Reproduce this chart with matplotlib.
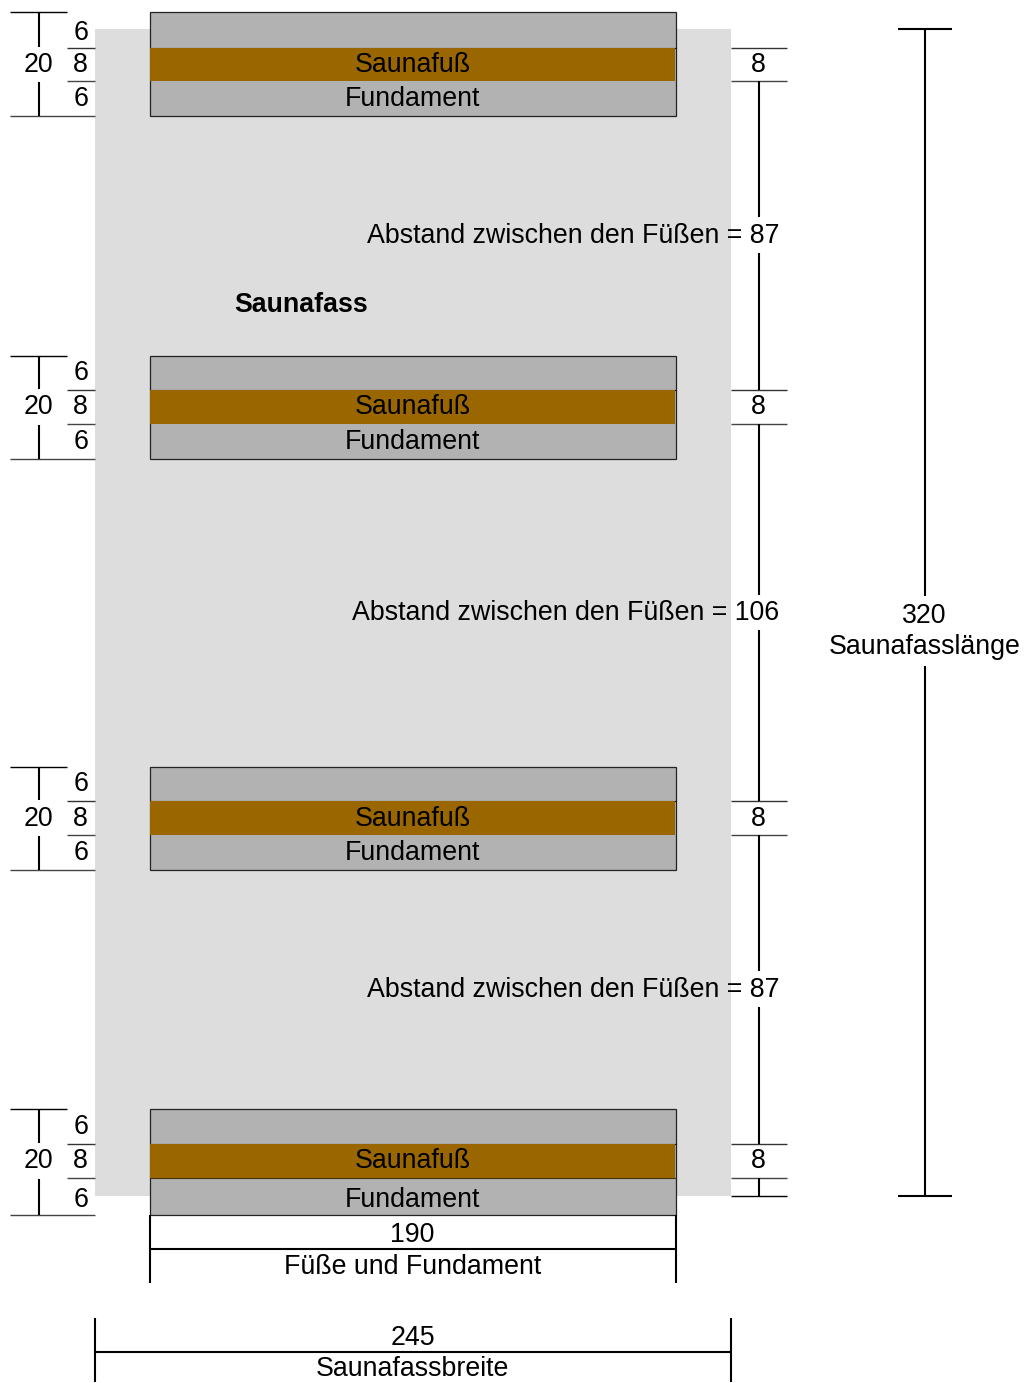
import matplotlib
matplotlib.use("Agg")
import matplotlib.pyplot as plt
from matplotlib.patches import Rectangle

plt.rcParams['font.family'] = ['Liberation Sans', 'DejaVu Sans']

# values
layer_cm = [6, 8, 6]
foot_total_cm = 20
foot_height_cm = 8
gaps_cm = [87, 106, 87]
barrel_length_cm = 320
barrel_width_cm = 245
foot_width_cm = 190
foot_label = "Saunafuß"
base_label = "Fundament"
barrel_label = "Saunafass"
gap_label = "Abstand zwischen den Füßen = "
length_label = "Saunafasslänge"
width_label = "Saunafassbreite"
foot_width_label = "Füße und Fundament"

# drawing layout (pixels of the sheet)
W, H = 1025, 1383
feet_y = [(13, 48.5, 82, 117), (357, 391, 425, 460),
          (768, 802, 836, 871), (1110, 1144.5, 1179, 1216)]
label_y = [(31, 63, 97), (371, 405, 440), (782, 817, 851), (1125, 1159, 1198)]
gap_y = [234, 611, 988]
gap_break = [(218, 254), (596, 631), (972, 1008)]
FS = 19.25
GREY, BROWN, BG = '#b2b2b2', '#996600', '#dddddd'

fig = plt.figure(figsize=(W / 100, H / 100), dpi=100)
ax = fig.add_axes([0, 0, 1, 1])
ax.set_xlim(0.4, W + 0.4)
ax.set_ylim(H + 0.6, 0.6)
ax.axis('off')


def T(x, y, s, **kw):
    kw.setdefault('ha', 'center')
    ax.text(x, y - 0.4, s, fontsize=FS, va='center_baseline', color='black', **kw)


def HL(y, x0, x1, lw=1.0, c='black'):
    ax.plot([x0, x1], [y, y], color=c, lw=lw, solid_capstyle='butt')


def VL(x, y0, y1, lw=1.5):
    ax.plot([x, x], [y0, y1], color='black', lw=lw, solid_capstyle='butt')


ax.add_patch(Rectangle((95, 30), 636, 1167, fc=BG, ec='none'))

for i, (y0, y1, y2, y3) in enumerate(feet_y):
    ax.add_patch(Rectangle((150, y0), 526, y3 - y0, fc=GREY, ec='#222222', lw=0.9, zorder=2))
    ax.add_patch(Rectangle((150.5, y1), 525, y2 - y1, fc=BROWN, ec='none', zorder=3))
    HL(y1, 150, 676, lw=0.8, c='#111111')
    if i == 3:
        HL(y2, 150, 676, lw=0.8, c='#443311')
    ly = label_y[i]
    T(413, ly[1], foot_label, zorder=5)
    T(413, ly[2], base_label, zorder=5)
    # left dimensions
    HL(y0, 10, 67)
    HL(y3, 10, 95, c='#444444')
    HL(y1, 67, 95, c='#333333')
    HL(y2, 67, 95, c='#444444')
    VL(39.5, y0, y1 - 1)
    VL(39.5, y2 + 1, y3)
    T(38.5, ly[1], str(foot_total_cm))
    for v, yy in zip(layer_cm, ly):
        T(81, yy, str(v))
    # right dimensions
    HL(y1, 731, 787, c='#333333')
    HL(y2, 731, 787, c='#444444')
    T(759, ly[1], str(foot_height_cm))

# gaps between feet on the right
for i, g in enumerate(gaps_cm):
    T(780, gap_y[i], gap_label + str(g), ha='right')
    VL(759, feet_y[i][2], gap_break[i][0])
    VL(759, gap_break[i][1], feet_y[i + 1][1])
VL(759, 1179, 1197)
HL(1197, 731, 787)

T(302, 303, barrel_label, fontweight='bold')

# overall length
VL(925, 30, 597)
VL(925, 667, 1197)
HL(30, 898, 952, lw=1.5)
HL(1197, 898, 952, lw=1.5)
T(925, 614, str(barrel_length_cm))
T(925, 645, length_label)

# widths
VL(150, 1216, 1284)
VL(676, 1216, 1284)
HL(1250, 150, 676, lw=1.5)
T(413, 1233, str(foot_width_cm))
T(413, 1265, foot_width_label)

VL(95, 1319, 1383)
VL(731, 1319, 1383)
HL(1353, 95, 731, lw=1.5)
T(413, 1336, str(barrel_width_cm))
T(413, 1367, width_label)

fig.savefig('out.png', dpi=100, facecolor='white')
